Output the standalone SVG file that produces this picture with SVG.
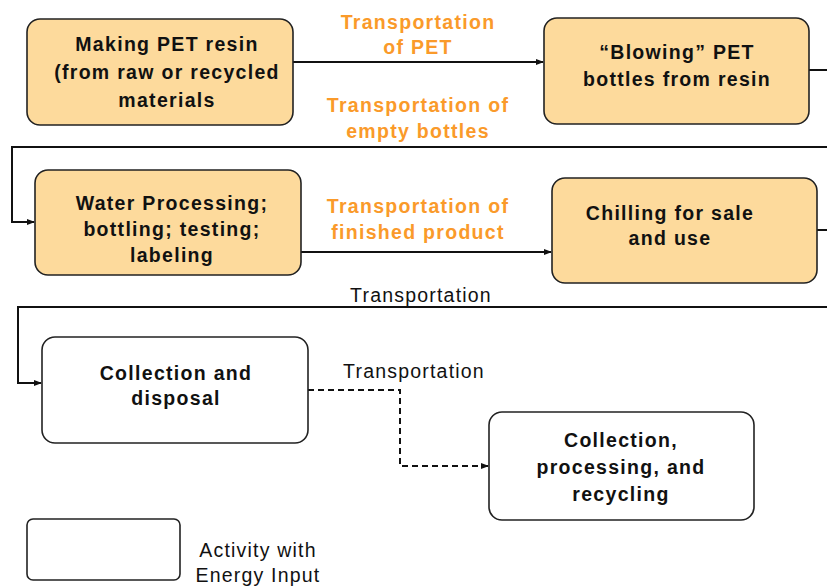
<svg xmlns="http://www.w3.org/2000/svg" width="827" height="587" viewBox="0 0 827 587">
<style>
.node{fill:#FDDA9C;stroke:#222;stroke-width:1.6}
.wnode{fill:#fff;stroke:#222;stroke-width:1.6}
.t{font-family:"Liberation Sans",Arial,sans-serif;font-weight:bold;font-size:19.5px;letter-spacing:1.3px;fill:#111;text-anchor:middle}
.o{font-family:"Liberation Sans",Arial,sans-serif;font-weight:bold;font-size:19.5px;letter-spacing:1.3px;fill:#FA9A2A;text-anchor:middle}
.r{font-family:"Liberation Sans",Arial,sans-serif;font-size:19.5px;letter-spacing:1.2px;fill:#111;text-anchor:middle}
.c{fill:none;stroke:#111;stroke-width:2}
.d{fill:none;stroke:#111;stroke-width:2;stroke-dasharray:6 4}
</style>
<defs>
<marker id="ah" markerWidth="8" markerHeight="8" refX="7" refY="4" orient="auto" markerUnits="userSpaceOnUse">
<path d="M0,1 L8,4 L0,7 Z" fill="#111"/>
</marker>
</defs>
<rect width="827" height="587" fill="#fff"/>
<g id="connectors">
<path class="c" d="M293,62 H543" marker-end="url(#ah)"/>
<path class="c" d="M809,70 H827"/>
<path class="c" d="M827,147 H12 V222 H34" marker-end="url(#ah)"/>
<path class="c" d="M301,252 H551" marker-end="url(#ah)"/>
<path class="c" d="M817,230 H827"/>
<path class="c" d="M827,307 H18 V383 H41" marker-end="url(#ah)"/>
<path class="d" d="M308,390 H400 V466 H488" marker-end="url(#ah)"/>
<text class="o" x="418" y="29">Transportation</text>
<text class="o" x="418" y="54">of PET</text>
<text class="o" x="418" y="112">Transportation of</text>
<text class="o" x="418" y="138">empty bottles</text>
<text class="o" x="418" y="213">Transportation of</text>
<text class="o" x="418" y="239">finished product</text>
<text class="r" x="421" y="302">Transportation</text>
<text class="r" x="414" y="378">Transportation</text>
</g>
<g id="n1">
<rect class="node" x="27" y="19" width="266" height="106" rx="13"/>
<text class="t" x="167" y="51">Making PET resin</text>
<text class="t" x="167" y="79">(from raw or recycled</text>
<text class="t" x="167" y="107">materials</text>
</g>
<g id="n2">
<rect class="node" x="544" y="18" width="265" height="106" rx="13"/>
<text class="t" x="677" y="59">“Blowing” PET</text>
<text class="t" x="677" y="86">bottles from resin</text>
</g>
<g id="n3">
<rect class="node" x="35" y="170" width="266" height="105" rx="13"/>
<text class="t" x="172" y="210">Water Processing;</text>
<text class="t" x="172" y="236">bottling; testing;</text>
<text class="t" x="172" y="262">labeling</text>
</g>
<g id="n4">
<rect class="node" x="552" y="178" width="265" height="105" rx="13"/>
<text class="t" x="670" y="220">Chilling for sale</text>
<text class="t" x="670" y="245">and use</text>
</g>
<g id="n5">
<rect class="wnode" x="42" y="337" width="266" height="106" rx="13"/>
<text class="t" x="176" y="380">Collection and</text>
<text class="t" x="176" y="405">disposal</text>
</g>
<g id="n6">
<rect class="wnode" x="489" y="412" width="265" height="108" rx="13"/>
<text class="t" x="621" y="447">Collection,</text>
<text class="t" x="621" y="474">processing, and</text>
<text class="t" x="621" y="501">recycling</text>
</g>
<g id="legend">
<rect class="wnode" x="27" y="519" width="153" height="61" rx="6"/>
<text class="r" x="258" y="557">Activity with</text>
<text class="r" x="258" y="582">Energy Input</text>
</g>
</svg>
